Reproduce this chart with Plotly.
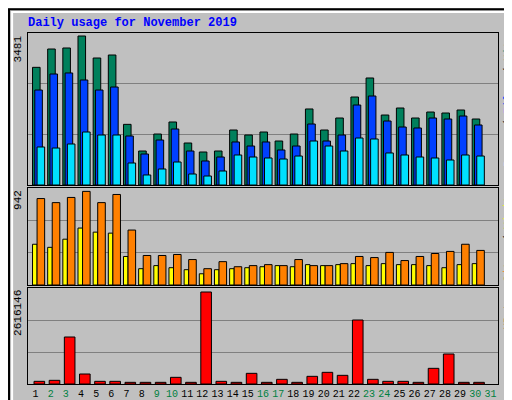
import plotly.graph_objects as go

days = list(range(1, 31))
all_days = list(range(1, 32))
weekend = [2, 3, 9, 10, 16, 17, 23, 24, 30, 31]

hits = [2749, 3177, 3201, 3481, 2967, 3037, 1417, 794, 1191, 1472, 981, 771, 794, 1285, 1168,
        1238, 1028, 1191, 1776, 1285, 1565, 2056, 2500, 1635, 1799, 1565, 1705, 1682, 1752, 1542]
files = [2219, 2593, 2617, 2453, 2219, 2289, 1145, 724, 1051, 1308, 794, 561, 654, 1005, 911,
         1005, 818, 911, 1425, 1028, 1168, 1869, 2079, 1495, 1355, 1332, 1565, 1542, 1612, 1402]
pages = [888, 864, 958, 1238, 1168, 1168, 514, 234, 374, 537, 257, 210, 327, 701, 654,
         631, 607, 677, 1028, 911, 794, 1098, 1075, 748, 701, 654, 631, 584, 701, 677]
visits = [410, 379, 461, 573, 532, 522, 287, 164, 195, 174, 154, 113, 154, 164, 174,
          184, 195, 184, 205, 195, 205, 215, 195, 215, 205, 205, 195, 174, 205, 215]
sites = [870, 829, 881, 942, 829, 911, 553, 297, 297, 307, 256, 164, 235, 184, 195,
         205, 195, 256, 195, 195, 215, 287, 276, 328, 246, 287, 317, 338, 410, 348]
kbytes = [75832, 104269, 1336539, 284370, 75832, 75832, 47395, 47395, 47395, 189580, 47395,
          2616146, 75832, 47395, 303328, 47395, 132706, 47395, 218017, 331765, 246454,
          1819968, 132706, 75832, 75832, 47395, 445513, 853110, 47395, 47395]

font = "Liberation Mono, DejaVu Sans Mono, monospace"
line = dict(color="black", width=1)

fig = go.Figure()
def bars(y, color, off, w, ax):
    fig.add_trace(go.Bar(x=days, y=y, marker=dict(color=color, line=line), offset=off,
                         width=w, xaxis="x" + ax, yaxis="y" + ax, showlegend=False))

bars(hits, "#00805C", -0.2, 0.5, "")
bars(files, "#0040FF", -0.05, 0.5, "")
bars(pages, "#00E0FF", 0.1, 0.5, "")
bars(visits, "#FFFF00", -0.2, 0.3, "2")
bars(sites, "#FF8000", 0.1, 0.5, "2")
bars(kbytes, "#FF0000", -0.1, 0.7, "3")

tops = [3481 * 152 / 149, 942 * 286 / 276, 2616146 * 288 / 276]
doms = [(0.5575, 0.9375), (0.3075, 0.55), (0.06, 0.30)]
xd = [0.039, 0.957]
layout = dict(barmode="overlay", width=512, height=400, margin=dict(l=0, r=0, t=0, b=0),
              paper_bgcolor="#C0C0C0", plot_bgcolor="#C0C0C0",
              font=dict(family=font, size=11, color="black"))
ticktext = ['<span style="color:%s">%d</span>' % ("#008040" if d in weekend else "black", d)
            for d in all_days]
for i, name in enumerate(["", "2", "3"]):
    layout["xaxis" + name] = dict(domain=xd, range=[0.5, 31.5], anchor="y" + name,
                                  showgrid=False, zeroline=False, showline=True, mirror=True,
                                  linecolor="black", linewidth=1, tickangle=0,
                                  tickfont=dict(size=10, color="black"),
                                  tickvals=all_days if i == 2 else [],
                                  ticktext=ticktext if i == 2 else None, ticks="")
    layout["yaxis" + name] = dict(domain=doms[i], range=[0, tops[i]], anchor="x" + name,
                                  tickvals=[tops[i] / 3, 2 * tops[i] / 3], showticklabels=False,
                                  gridcolor="#808080", gridwidth=1, zeroline=False,
                                  showline=True, mirror=True, linecolor="black")
fig.update_layout(**layout)

for lbl, y in [("3481", 0.9375), ("942", 0.55), ("2616146", 0.30)]:
    fig.add_annotation(text=lbl, textangle=-90, x=0.035, y=y, xref="paper", yref="paper",
                       xanchor="right", yanchor="top", showarrow=False,
                       font=dict(size=11, color="black"))
rl = [('<span style="color:#00E0FF">Pages</span> / <span style="color:#0040FF">Files</span>'
       ' / <span style="color:#00805C">Hits</span>', 0.9375),
      ('<span style="color:#FF8000">Sites</span> / <span style="color:#FFFF00">Visits</span>', 0.55),
      ('<span style="color:#FF0000">KBytes</span>', 0.30)]
for t, y in rl:
    fig.add_annotation(text=t, textangle=-90, x=0.976, y=y, xref="paper", yref="paper",
                       xanchor="center", yanchor="top", showarrow=False,
                       font=dict(size=11, color="black"))
fig.add_annotation(text="<b>Daily usage for November 2019</b>", x=0.035, y=0.985, xref="paper",
                   yref="paper", xanchor="left", yanchor="top", showarrow=False,
                   font=dict(size=12, color="#0000FF"))
fig.add_shape(type="rect", xref="paper", yref="paper", x0=0.002, y0=0.003, x1=0.998, y1=0.997,
              line=dict(color="black", width=2))
fig.add_shape(type="rect", xref="paper", yref="paper", x0=0.008, y0=0.012, x1=0.99, y1=0.99,
              line=dict(color="white", width=2))

fig.write_html("out.html")
